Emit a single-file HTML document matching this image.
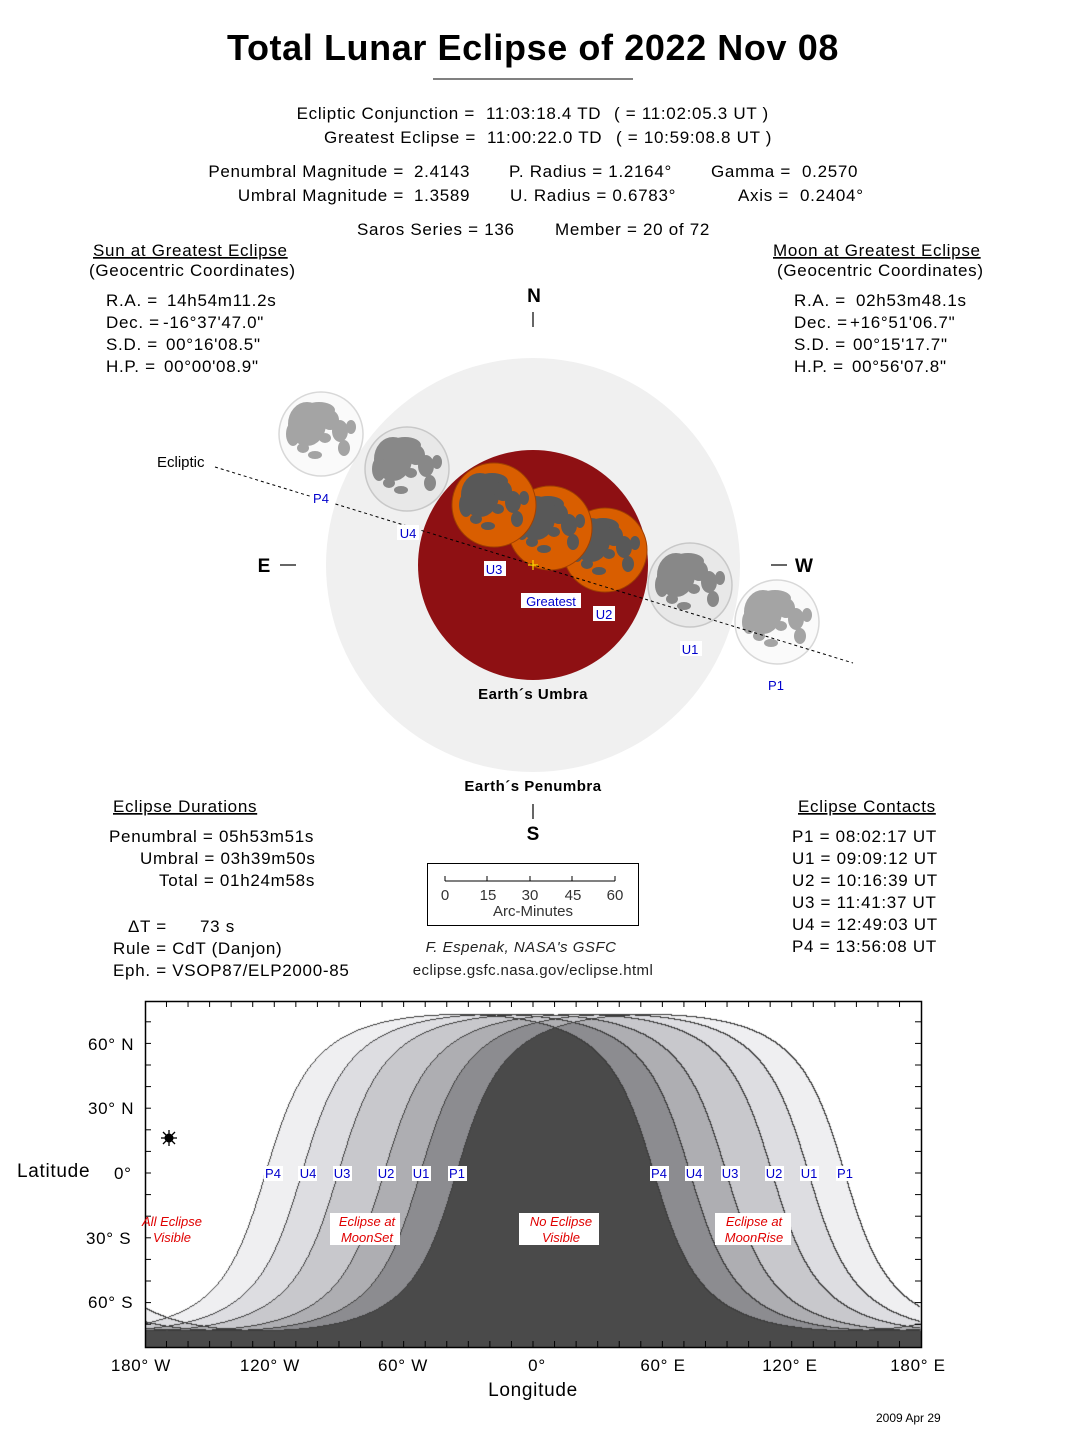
<!DOCTYPE html>
<html><head><meta charset="utf-8">
<style>
html,body{margin:0;padding:0;background:#fff;}
#wrap{position:relative;width:1082px;height:1446px;overflow:hidden;}
canvas{position:absolute;left:145px;top:1001px;}
svg{position:absolute;left:0;top:0;}
text{font-family:"Liberation Sans",Helvetica,Arial,sans-serif;}
.t17 text{letter-spacing:0.7px;}
</style></head><body>
<div id="wrap">
<canvas id="cv" width="776" height="346"></canvas>
<svg id="sv" width="1082" height="1446" xmlns="http://www.w3.org/2000/svg">
<defs>
<g id="maria">
<ellipse cx="-14" cy="-10" rx="19" ry="22"/>
<ellipse cx="-2" cy="-24" rx="16" ry="8"/>
<ellipse cx="9" cy="-14" rx="9" ry="10"/>
<ellipse cx="19" cy="-3" rx="8" ry="11"/>
<ellipse cx="30" cy="-7" rx="5" ry="7"/>
<ellipse cx="23" cy="14" rx="6" ry="8"/>
<ellipse cx="-28" cy="0" rx="7" ry="12"/>
<ellipse cx="-18" cy="14" rx="6" ry="5"/>
<ellipse cx="-6" cy="21" rx="7" ry="4"/>
<ellipse cx="4" cy="4" rx="6" ry="5"/>
</g>
</defs>
<text x="533" y="60" font-size="36" font-weight="bold" text-anchor="middle" letter-spacing="0.6">Total Lunar Eclipse of  2022 Nov 08</text>
<line x1="433" y1="79" x2="633" y2="79" stroke="#000" stroke-width="1"/>
<g font-size="17" class="t17">
<text x="475" y="119" text-anchor="end">Ecliptic Conjunction =</text>
<text x="486" y="119">11:03:18.4 TD</text>
<text x="614" y="119">( = 11:02:05.3 UT )</text>
<text x="476" y="143" text-anchor="end">Greatest Eclipse =</text>
<text x="487" y="143">11:00:22.0 TD</text>
<text x="616" y="143">( = 10:59:08.8 UT )</text>
<text x="404" y="177" text-anchor="end">Penumbral Magnitude =</text>
<text x="414" y="177">2.4143</text>
<text x="509" y="177">P. Radius = 1.2164°</text>
<text x="711" y="177">Gamma =</text>
<text x="802" y="177">0.2570</text>
<text x="404" y="201" text-anchor="end">Umbral Magnitude =</text>
<text x="414" y="201">1.3589</text>
<text x="510" y="201">U. Radius = 0.6783°</text>
<text x="738" y="201">Axis =</text>
<text x="800" y="201">0.2404°</text>
<text x="357" y="235">Saros Series = 136</text>
<text x="555" y="235">Member = 20 of 72</text>
<text x="93" y="256" text-decoration="underline">Sun at Greatest Eclipse</text>
<text x="89" y="276">(Geocentric Coordinates)</text>
<text x="106" y="306">R.A. =</text><text x="167" y="306">14h54m11.2s</text>
<text x="106" y="328">Dec. =</text><text x="163" y="328">-16°37'47.0"</text>
<text x="106" y="350">S.D. =</text><text x="166" y="350">00°16'08.5"</text>
<text x="106" y="372">H.P. =</text><text x="164" y="372">00°00'08.9"</text>
<text x="773" y="256" text-decoration="underline">Moon at Greatest Eclipse</text>
<text x="777" y="276">(Geocentric Coordinates)</text>
<text x="794" y="306">R.A. =</text><text x="856" y="306">02h53m48.1s</text>
<text x="794" y="328">Dec. =</text><text x="850" y="328">+16°51'06.7"</text>
<text x="794" y="350">S.D. =</text><text x="853" y="350">00°15'17.7"</text>
<text x="794" y="372">H.P. =</text><text x="852" y="372">00°56'07.8"</text>
<text x="113" y="812" text-decoration="underline">Eclipse Durations</text>
<text x="109" y="842">Penumbral = 05h53m51s</text>
<text x="140" y="864">Umbral = 03h39m50s</text>
<text x="159" y="886">Total = 01h24m58s</text>
<text x="128" y="932">ΔT =</text><text x="200" y="932">73 s</text>
<text x="113" y="954">Rule = CdT (Danjon)</text>
<text x="113" y="976">Eph. = VSOP87/ELP2000-85</text>
<text x="798" y="812" text-decoration="underline">Eclipse Contacts</text>
<text x="792" y="842">P1 = 08:02:17 UT</text>
<text x="792" y="864">U1 = 09:09:12 UT</text>
<text x="792" y="886">U2 = 10:16:39 UT</text>
<text x="792" y="908">U3 = 11:41:37 UT</text>
<text x="792" y="930">U4 = 12:49:03 UT</text>
<text x="792" y="952">P4 = 13:56:08 UT</text>
</g>
<g font-size="19" font-weight="bold">
<text x="534" y="302" text-anchor="middle">N</text>
<text x="533" y="840" text-anchor="middle">S</text>
<text x="264" y="572" text-anchor="middle">E</text>
<text x="804" y="572" text-anchor="middle">W</text>
</g>
<g stroke="#000" stroke-width="1.2">
<line x1="533" y1="312" x2="533" y2="327"/>
<line x1="533" y1="804" x2="533" y2="819"/>
<line x1="280" y1="565" x2="296" y2="565"/>
<line x1="771" y1="565" x2="787" y2="565"/>
</g>
<circle cx="533" cy="565" r="207" fill="#f0f0f0"/>
<circle cx="533" cy="565" r="115" fill="#8e1013"/>
<text x="533" y="699" font-size="15" font-weight="bold" text-anchor="middle" letter-spacing="0.5">Earth´s Umbra</text>
<text x="533" y="791" font-size="15" font-weight="bold" text-anchor="middle" letter-spacing="0.5">Earth´s Penumbra</text>
<text x="157" y="467" font-size="15">Ecliptic</text>
<g>
<circle cx="321" cy="434" r="42" fill="#fafafa" stroke="#d8d8d8" stroke-width="1.5"/>
<use href="#maria" transform="translate(321,434)" fill="#a4a4a4"/>
<circle cx="407" cy="469" r="42" fill="#e8e8e8" stroke="#c8c8c8" stroke-width="1.5"/>
<use href="#maria" transform="translate(407,469)" fill="#888"/>
<circle cx="690" cy="585" r="42" fill="#e8e8e8" stroke="#c8c8c8" stroke-width="1.5"/>
<use href="#maria" transform="translate(690,585)" fill="#888"/>
<circle cx="777" cy="622" r="42" fill="#fafafa" stroke="#d8d8d8" stroke-width="1.5"/>
<use href="#maria" transform="translate(777,622)" fill="#a4a4a4"/>
<circle cx="605" cy="550" r="42" fill="#d95e00" stroke="#a04000" stroke-width="1"/>
<use href="#maria" transform="translate(605,550)" fill="#585858"/>
<circle cx="550" cy="528" r="42" fill="#d95e00" stroke="#a04000" stroke-width="1"/>
<use href="#maria" transform="translate(550,528)" fill="#585858"/>
<circle cx="494" cy="505" r="42" fill="#d95e00" stroke="#a04000" stroke-width="1"/>
<use href="#maria" transform="translate(494,505)" fill="#585858"/>
</g>
<line x1="215" y1="467" x2="853" y2="663" stroke="#000" stroke-width="1" stroke-dasharray="3,3"/>
<g stroke="#ffd800" stroke-width="1.2"><line x1="528" y1="565" x2="538" y2="565"/><line x1="533" y1="560" x2="533" y2="570"/></g>
<g font-size="13" fill="#0000cc" text-anchor="middle">
<rect x="311" y="490" width="22" height="15" fill="#fff"/><text x="321" y="503">P4</text>
<rect x="397" y="525" width="22" height="15" fill="#fff"/><text x="408" y="538">U4</text>
<rect x="484" y="561" width="22" height="15" fill="#fff"/><text x="494" y="574">U3</text>
<rect x="521" y="593" width="60" height="15" fill="#fff"/><text x="551" y="606">Greatest</text>
<rect x="593" y="606" width="22" height="15" fill="#fff"/><text x="604" y="619">U2</text>
<rect x="680" y="641" width="22" height="15" fill="#fff"/><text x="690" y="654">U1</text>
<text x="776" y="690">P1</text>
</g>
<rect x="427.5" y="863.5" width="211" height="62" fill="none" stroke="#000"/>
<g stroke="#000" stroke-width="1">
<line x1="445" y1="881" x2="615" y2="881"/>
<line x1="445" y1="876" x2="445" y2="881"/><line x1="487" y1="876" x2="487" y2="881"/><line x1="530" y1="876" x2="530" y2="881"/><line x1="572" y1="876" x2="572" y2="881"/><line x1="615" y1="876" x2="615" y2="881"/>
</g>
<g font-size="15" fill="#333" text-anchor="middle">
<text x="445" y="900">0</text><text x="488" y="900">15</text><text x="530" y="900">30</text><text x="573" y="900">45</text><text x="615" y="900">60</text>
<text x="533" y="916">Arc-Minutes</text>
</g>
<text x="521" y="952" font-size="15" font-style="italic" text-anchor="middle" fill="#222" letter-spacing="0.5">F. Espenak, NASA's GSFC</text>
<text x="533" y="975" font-size="15" text-anchor="middle" fill="#222" letter-spacing="0.4">eclipse.gsfc.nasa.gov/eclipse.html</text>
<rect x="145.5" y="1001.5" width="776" height="346" fill="none" stroke="#000" stroke-width="1.5"/>
<g id="ticks" stroke="#000" stroke-width="1"></g>
<g font-size="17" class="t17">
<text x="88" y="1050">60° N</text>
<text x="88" y="1114">30° N</text>
<text x="114" y="1179">0°</text>
<text x="86" y="1244">30° S</text>
<text x="88" y="1308">60° S</text>
<text x="17" y="1177" font-size="19">Latitude</text>
<g text-anchor="middle">
<text x="141" y="1371">180° W</text>
<text x="270" y="1371">120° W</text>
<text x="403" y="1371">60° W</text>
<text x="537" y="1371">0°</text>
<text x="663" y="1371">60° E</text>
<text x="790" y="1371">120° E</text>
<text x="918" y="1371">180° E</text>
<text x="533" y="1396" font-size="19">Longitude</text>
</g>
</g>
<text x="876" y="1422" font-size="12">2009 Apr 29</text>
<g stroke="#000" stroke-width="1.3"><line x1="161" y1="1138" x2="177" y2="1138"/><line x1="169" y1="1130" x2="169" y2="1146"/><line x1="163" y1="1132" x2="175" y2="1144"/><line x1="163" y1="1144" x2="175" y2="1132"/></g>
<circle cx="169" cy="1138" r="4.5" fill="#000"/>
<g font-size="13" fill="#0000cc" text-anchor="middle">
<rect x="264" y="1166" width="19" height="15" fill="#fff"/><text x="273" y="1178">P4</text>
<rect x="298" y="1166" width="19" height="15" fill="#fff"/><text x="308" y="1178">U4</text>
<rect x="333" y="1166" width="19" height="15" fill="#fff"/><text x="342" y="1178">U3</text>
<rect x="377" y="1166" width="19" height="15" fill="#fff"/><text x="386" y="1178">U2</text>
<rect x="412" y="1166" width="19" height="15" fill="#fff"/><text x="421" y="1178">U1</text>
<rect x="448" y="1166" width="19" height="15" fill="#fff"/><text x="457" y="1178">P1</text>
<rect x="650" y="1166" width="19" height="15" fill="#fff"/><text x="659" y="1178">P4</text>
<rect x="685" y="1166" width="19" height="15" fill="#fff"/><text x="694" y="1178">U4</text>
<rect x="721" y="1166" width="19" height="15" fill="#fff"/><text x="730" y="1178">U3</text>
<rect x="765" y="1166" width="19" height="15" fill="#fff"/><text x="774" y="1178">U2</text>
<rect x="800" y="1166" width="19" height="15" fill="#fff"/><text x="809" y="1178">U1</text>
<rect x="836" y="1166" width="19" height="15" fill="#fff"/><text x="845" y="1178">P1</text>
</g>
<g font-size="13" fill="#e00000" font-style="italic" text-anchor="middle">
<text x="172" y="1226">All Eclipse</text><text x="172" y="1242">Visible</text>
<rect x="330" y="1213" width="70" height="32" fill="#fff"/>
<text x="367" y="1226">Eclipse at</text><text x="367" y="1242">MoonSet</text>
<rect x="519" y="1213" width="80" height="32" fill="#fff"/>
<text x="561" y="1226">No Eclipse</text><text x="561" y="1242">Visible</text>
<rect x="715" y="1213" width="76" height="32" fill="#fff"/>
<text x="754" y="1226">Eclipse at</text><text x="754" y="1242">MoonRise</text>
</g>
</svg>
</div>
<script>
(function(){
var cv=document.getElementById('cv'),ctx=cv.getContext('2d');
var W=776,H=346,img=ctx.createImageData(W,H),d=img.data;
var ts=[8.038,9.153,10.278,11.694,12.818,13.936];
var dec=16.85*Math.PI/180,sd=Math.sin(dec),cd=Math.cos(dec);
var Ls=ts.map(function(t){return ((11.687-t)*15+180)*Math.PI/180;});
var cols=[[255,255,255],[239,239,241],[221,221,225],[200,200,204],[174,174,178],[140,140,144],[74,74,74]];
var V=new Float32Array(W*H*6);
for(var y=0;y<H;y++){var lat=(1173-(y+1001.5))/2.16*Math.PI/180;var sl=Math.sin(lat),cl=Math.cos(lat);
 for(var x=0;x<W;x++){var lon=(x+145.5-533)/2.156*Math.PI/180;var n=0;
  for(var k=0;k<6;k++){var v=sl*sd+cl*cd*Math.cos(lon-Ls[k]);V[(y*W+x)*6+k]=v;if(v<0)n++;}
  var c=cols[n],i=(y*W+x)*4;d[i]=c[0];d[i+1]=c[1];d[i+2]=c[2];d[i+3]=255;}}
for(var y=0;y<H-1;y++)for(var x=0;x<W-1;x++){var b=(y*W+x)*6,r=b+6,dn=b+W*6,edge=false;
 for(var k=0;k<6;k++){var a=V[b+k];if((a<0)!=(V[r+k]<0)||(a<0)!=(V[dn+k]<0)){edge=true;break;}}
 if(edge){var i=(y*W+x)*4;d[i]=60;d[i+1]=60;d[i+2]=60;}}
ctx.putImageData(img,0,0);
var g=document.getElementById('ticks'),s='';
for(var lo=-170;lo<180;lo+=10){var X=533+lo*2.156;s+='<line x1="'+X+'" y1="1001" x2="'+X+'" y2="1007"/><line x1="'+X+'" y1="1341" x2="'+X+'" y2="1347"/>';}
for(var la=-70;la<=70;la+=10){var Y=1173-la*2.16;s+='<line x1="145" y1="'+Y+'" x2="151" y2="'+Y+'"/><line x1="915" y1="'+Y+'" x2="921" y2="'+Y+'"/>';}
g.innerHTML=s;
})();
</script>
</body></html>
